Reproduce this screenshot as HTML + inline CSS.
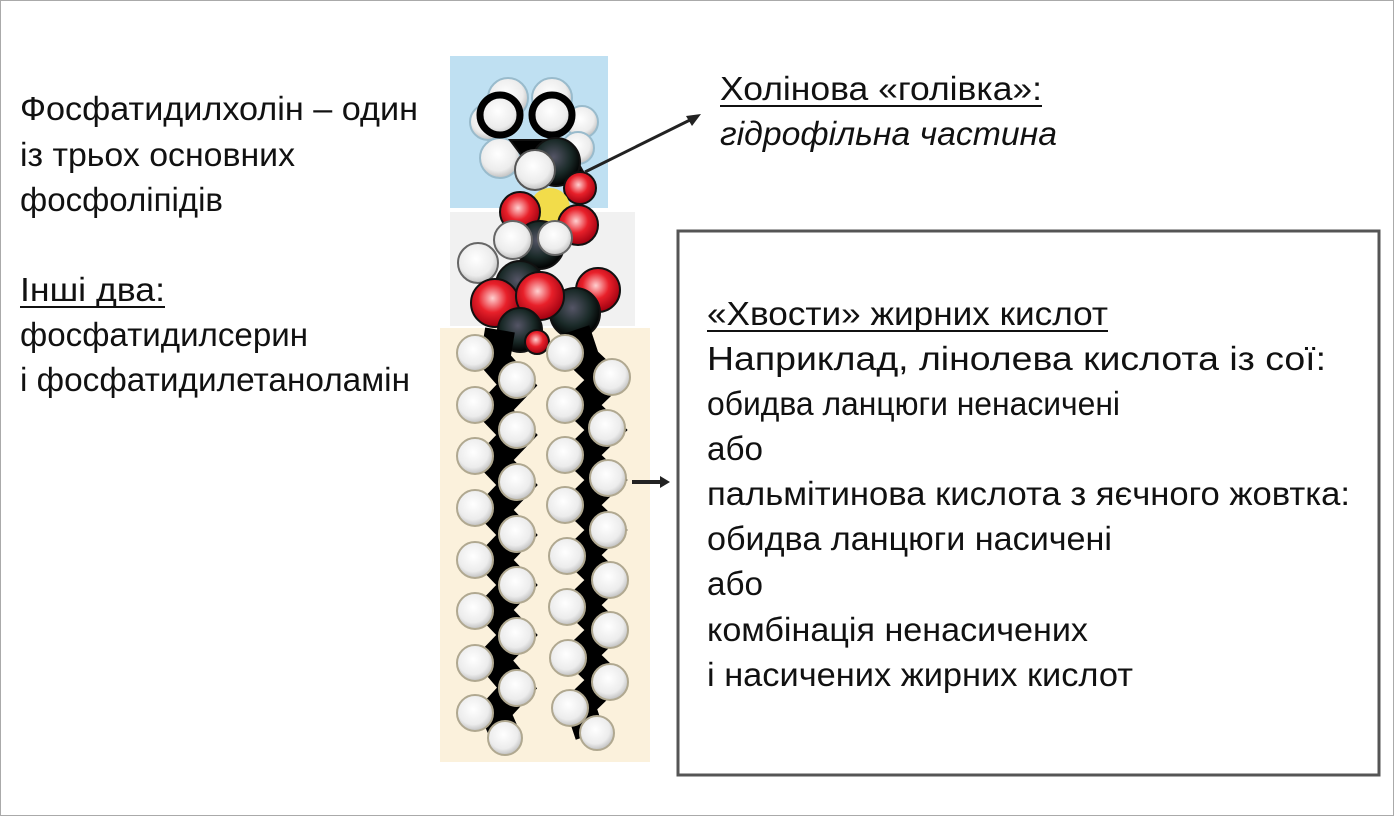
<!DOCTYPE html>
<html><head><meta charset="utf-8"><style>
html,body{margin:0;padding:0;background:#fff}
svg{display:block}
text{font-family:"Liberation Sans",sans-serif;font-size:33px;fill:#111}
</style></head><body>
<svg width="1394" height="816" viewBox="0 0 1394 816">
<defs>
<radialGradient id="w" cx="45%" cy="40%" r="60%"><stop offset="0" stop-color="#fff"/><stop offset="0.7" stop-color="#ececec"/><stop offset="1" stop-color="#c0c0c0"/></radialGradient>
<radialGradient id="r" cx="45%" cy="40%" r="60%"><stop offset="0" stop-color="#ffd0d0"/><stop offset="0.5" stop-color="#e8202a"/><stop offset="1" stop-color="#a00010"/></radialGradient>
<radialGradient id="k" cx="45%" cy="40%" r="60%"><stop offset="0" stop-color="#556"/><stop offset="0.6" stop-color="#1a2a28"/><stop offset="1" stop-color="#000"/></radialGradient>
</defs>
<rect x="0.5" y="0.5" width="1393" height="815" fill="#fff" stroke="#aaa"/>
<rect x="450" y="56" width="158" height="152" fill="#bfe0f2"/>
<rect x="450" y="212" width="185" height="114" fill="#f1f1f1"/>
<rect x="440" y="328" width="210" height="434" fill="#fbf1dc"/>
<!-- head -->
<g stroke="#111" stroke-width="2">
<circle cx="508" cy="98" r="20" fill="url(#w)" stroke="#9bc"/>
<circle cx="552" cy="98" r="20" fill="url(#w)" stroke="#9bc"/>
<circle cx="488" cy="122" r="18" fill="url(#w)" stroke="#9bc"/>
<circle cx="582" cy="122" r="16" fill="url(#w)" stroke="#9bc"/>
<circle cx="500" cy="158" r="20" fill="url(#w)" stroke="#9bc"/>
<circle cx="578" cy="148" r="16" fill="url(#w)" stroke="#9bc"/>
<circle cx="500" cy="115" r="20" fill="url(#w)" stroke="#000" stroke-width="7"/>
<circle cx="552" cy="115" r="20" fill="url(#w)" stroke="#000" stroke-width="7"/>
<path d="M510,140 L565,140 L585,175 L540,180 Z" fill="#000"/>
<circle cx="556" cy="162" r="24" fill="url(#k)"/>
<circle cx="580" cy="188" r="16" fill="url(#r)"/>
<circle cx="535" cy="170" r="20" fill="url(#w)" stroke="#555"/>
<circle cx="550" cy="208" r="20" fill="#f2dc4a" stroke="none"/>
<circle cx="520" cy="212" r="20" fill="url(#r)"/>
<circle cx="578" cy="225" r="20" fill="url(#r)"/>
<circle cx="540" cy="245" r="24" fill="url(#k)"/>
<circle cx="513" cy="240" r="19" fill="url(#w)" stroke="#666"/>
<circle cx="555" cy="238" r="17" fill="url(#w)" stroke="#666"/>
<circle cx="478" cy="263" r="20" fill="url(#w)" stroke="#666"/>
<circle cx="520" cy="285" r="24" fill="url(#k)"/>
<circle cx="495" cy="303" r="24" fill="url(#r)"/>
<circle cx="598" cy="290" r="22" fill="url(#r)"/>
<circle cx="575" cy="313" r="25" fill="url(#k)"/>
<circle cx="540" cy="296" r="24" fill="url(#r)"/>
<circle cx="520" cy="330" r="22" fill="url(#k)"/>
<circle cx="537" cy="342" r="12" fill="url(#r)"/>
</g>
<!-- chains -->
<g stroke="#000" stroke-width="30" fill="none" stroke-linejoin="miter">
<polyline points="500,330 495,360 517,385 493,410 517,435 493,460 517,485 493,510 517,535 493,560 517,585 493,610 517,635 493,660 517,688 495,712 505,735"/>
<polyline points="575,330 585,360 606,380 580,405 606,430 580,455 606,480 580,505 606,530 580,555 606,580 580,605 606,630 580,655 606,680 580,705 590,735"/>
</g>
<g fill="url(#w)" stroke="#b0a890" stroke-width="2">
<circle cx="475" cy="353" r="18"/><circle cx="475" cy="405" r="18"/><circle cx="475" cy="456" r="18"/><circle cx="475" cy="508" r="18"/><circle cx="475" cy="560" r="18"/><circle cx="475" cy="611" r="18"/><circle cx="475" cy="663" r="18"/><circle cx="475" cy="713" r="18"/>
<circle cx="517" cy="380" r="18"/><circle cx="517" cy="430" r="18"/><circle cx="517" cy="482" r="18"/><circle cx="517" cy="534" r="18"/><circle cx="517" cy="585" r="18"/><circle cx="517" cy="636" r="18"/><circle cx="517" cy="688" r="18"/><circle cx="505" cy="738" r="17"/>
<circle cx="565" cy="353" r="18"/><circle cx="565" cy="405" r="18"/><circle cx="565" cy="455" r="18"/><circle cx="565" cy="505" r="18"/><circle cx="567" cy="556" r="18"/><circle cx="567" cy="607" r="18"/><circle cx="568" cy="658" r="18"/><circle cx="570" cy="708" r="18"/>
<circle cx="612" cy="377" r="18"/><circle cx="607" cy="428" r="18"/><circle cx="608" cy="478" r="18"/><circle cx="608" cy="530" r="18"/><circle cx="610" cy="580" r="18"/><circle cx="610" cy="630" r="18"/><circle cx="610" cy="682" r="18"/><circle cx="597" cy="733" r="17"/>
</g>
<!-- arrows -->
<line x1="585" y1="172" x2="692" y2="119" stroke="#222" stroke-width="3"/>
<polygon points="701,114 686,116 692,126" fill="#222"/>
<line x1="632" y1="482" x2="662" y2="482" stroke="#222" stroke-width="4"/>
<polygon points="670,482 660,476 660,488" fill="#222"/>
<!-- box -->
<rect x="678" y="231" width="701" height="544" fill="#fff" stroke="#555" stroke-width="3"/>
<!-- left text -->
<text x="20" y="120" textLength="398" lengthAdjust="spacingAndGlyphs">Фосфатидилхолін – один</text>
<text x="20" y="166" textLength="275" lengthAdjust="spacingAndGlyphs">із трьох основних</text>
<text x="20" y="211" textLength="203" lengthAdjust="spacingAndGlyphs">фосфоліпідів</text>
<text x="20" y="301" textLength="145" lengthAdjust="spacingAndGlyphs">Інші два:</text>
<line x1="20" y1="307" x2="165" y2="307" stroke="#111" stroke-width="2"/>
<text x="20" y="346" textLength="288" lengthAdjust="spacingAndGlyphs">фосфатидилсерин</text>
<text x="20" y="391" textLength="390" lengthAdjust="spacingAndGlyphs">і фосфатидилетаноламін</text>
<text x="720" y="100" textLength="322" lengthAdjust="spacingAndGlyphs">Холінова «голівка»:</text>
<line x1="720" y1="106" x2="1042" y2="106" stroke="#111" stroke-width="2"/>
<text x="720" y="145" textLength="337" lengthAdjust="spacingAndGlyphs" font-style="italic">гідрофільна частина</text>
<text x="707" y="325" textLength="401" lengthAdjust="spacingAndGlyphs">«Хвости» жирних кислот</text>
<line x1="707" y1="331" x2="1108" y2="331" stroke="#111" stroke-width="2"/>
<text x="707" y="370" textLength="619" lengthAdjust="spacingAndGlyphs">Наприклад, лінолева кислота із сої:</text>
<text x="707" y="415" textLength="413" lengthAdjust="spacingAndGlyphs">обидва ланцюги ненасичені</text>
<text x="707" y="460" textLength="56" lengthAdjust="spacingAndGlyphs">або</text>
<text x="707" y="505" textLength="643" lengthAdjust="spacingAndGlyphs">пальмітинова кислота з яєчного жовтка:</text>
<text x="707" y="550" textLength="405" lengthAdjust="spacingAndGlyphs">обидва ланцюги насичені</text>
<text x="707" y="595" textLength="56" lengthAdjust="spacingAndGlyphs">або</text>
<text x="707" y="641" textLength="381" lengthAdjust="spacingAndGlyphs">комбінація ненасичених</text>
<text x="707" y="686" textLength="426" lengthAdjust="spacingAndGlyphs">і насичених жирних кислот</text>
</svg>
</body></html>
